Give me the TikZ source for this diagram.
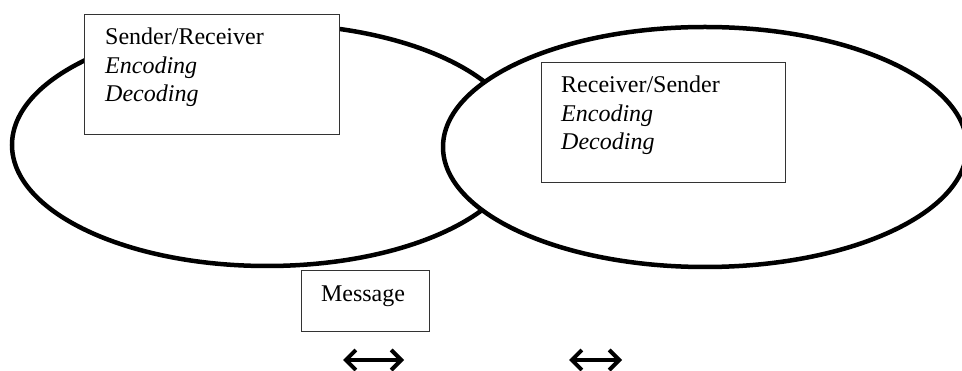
\documentclass[tikz,border=0pt]{standalone}
\usepackage{fontspec}
\setmainfont{Liberation Serif}
\usetikzlibrary{arrows.meta}
\begin{document}
\begin{tikzpicture}[x=1pt,y=-1pt,
  ring/.style={draw=black,line width=4.5pt,fill=white},
  labelbox/.style={draw=black!80,line width=1.3pt,fill=white,inner sep=0pt,anchor=north west},
  boxtext/.style={font=\fontsize{24}{28.5}\selectfont,align=left,text width=220pt,inner sep=0pt,anchor=base west},
  barb/.tip={Straight Barb[length=10pt,width=20pt,line width=4pt]},
  dblarrow/.style={line width=3.2pt,barb-barb}]
\useasboundingbox (0,0) rectangle (962,371);
% left ellipse
\draw[ring] (267,145) ellipse[x radius=255,y radius=121];
% right ellipse (on top)
\draw[ring] (705,147) ellipse[x radius=262,y radius=120];
% boxes
\node[labelbox,minimum width=255pt,minimum height=120pt] (lbox) at (84,14) {};
\node[boxtext] (ltext) at (105,45) {Sender/Receiver\\\textit{Encoding}\\\textit{Decoding}};
\node[labelbox,minimum width=244pt,minimum height=120pt] (rbox) at (541,62) {};
\node[boxtext] (rtext) at (561,93) {Receiver/Sender\\\textit{Encoding}\\\textit{Decoding}};
\node[labelbox,minimum width=128pt,minimum height=61pt] (mbox) at (301,270) {};
\node[font=\fontsize{24}{28.5}\selectfont,inner sep=0pt,anchor=base] (mtext) at (363,302) {Message};
% arrows
\coordinate (a1l) at (343,360);
\coordinate (a1r) at (404,360);
\coordinate (a2l) at (569,360);
\coordinate (a2r) at (622,360);
\draw[dblarrow] (a1l) -- (a1r);
\draw[dblarrow] (a2l) -- (a2r);
\end{tikzpicture}
\end{document}
